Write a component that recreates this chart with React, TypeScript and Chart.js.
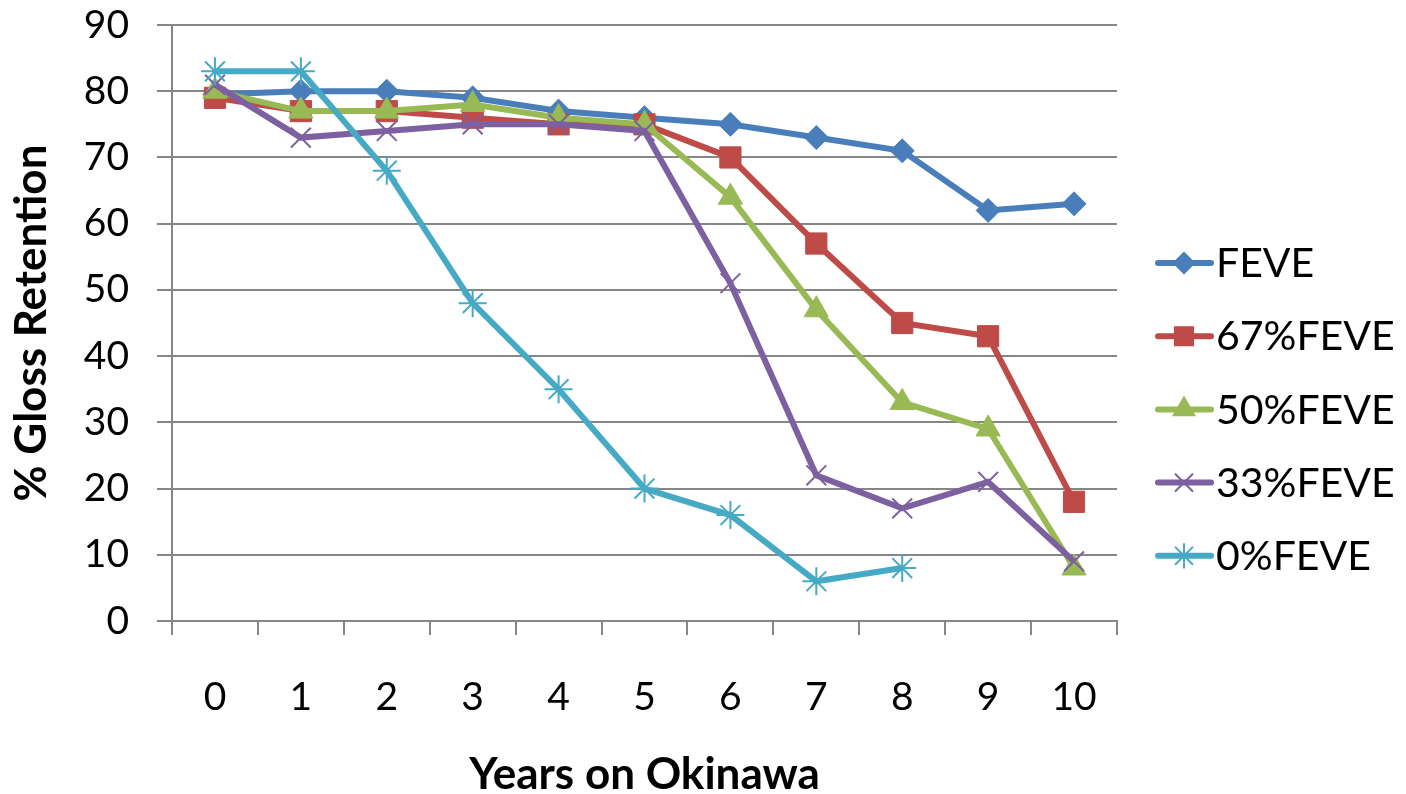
import React, { useEffect, useRef } from 'react';
import { Chart, registerables } from 'chart.js';
import { drawPoint } from 'chart.js/helpers';

Chart.register(...registerables);

const years = ['0', '1', '2', '3', '4', '5', '6', '7', '8', '9', '10'];
const feve = [79.5, 80, 80, 79, 77, 76, 75, 73, 71, 62, 63];
const feve67 = [79, 77, 77, 76, 75, 75, 70, 57, 45, 43, 18];
const feve50 = [80, 77, 77, 78, 76, 75, 64, 47, 33, 29, 8];
const feve33 = [81, 73, 74, 75, 75, 74, 51, 22, 17, 21, 9];
const feve0 = [83, 83, 68, 48, 35, 20, 16, 6, 8, null, null];

const seriesNames = ['FEVE', '67%FEVE', '50%FEVE', '33%FEVE', '0%FEVE'];
const seriesData = [feve, feve67, feve50, feve33, feve0];
const colors = ['#4A7EBB', '#BE4B48', '#98B954', '#7D60A0', '#46AAC5'];
const pointStyles = ['rectRot', 'rect', 'triangle', 'crossRot', 'star'];
const pointRadii = [12, 15, 14, 14, 14];

const FONT = 'Lato, "Open Sans", sans-serif';

const legendPlugin = {
  id: 'customLegend',
  afterDraw(chart: any) {
    const ctx = chart.ctx;
    ctx.save();
    const startY = 263;
    const step = 73.2;
    seriesNames.forEach((name, i) => {
      const y = startY + i * step;
      ctx.strokeStyle = colors[i];
      ctx.lineWidth = 6;
      ctx.lineCap = 'round';
      ctx.beginPath();
      ctx.moveTo(1158, y);
      ctx.lineTo(1211, y);
      ctx.stroke();
      ctx.fillStyle = colors[i];
      ctx.lineWidth = 2;
      drawPoint(ctx, { pointStyle: pointStyles[i], radius: pointRadii[i] * 0.85, rotation: 0, borderWidth: 2 }, 1184, y);
      ctx.fillStyle = '#000';
      ctx.font = `41px ${FONT}`;
      ctx.textBaseline = 'middle';
      ctx.textAlign = 'left';
      ctx.fillText(name, 1216, y + 1);
    });
    ctx.restore();
  },
};

export default function App() {
  const ref = useRef<HTMLCanvasElement | null>(null);
  useEffect(() => {
    if (!ref.current) return;
    const chart = new Chart(ref.current, {
      type: 'line',
      data: {
        labels: years,
        datasets: seriesNames.map((name, i) => ({
          label: name,
          data: seriesData[i],
          borderColor: colors[i],
          backgroundColor: colors[i],
          borderWidth: 6,
          pointStyle: pointStyles[i] as any,
          pointRadius: pointRadii[i],
          pointBorderWidth: i >= 3 ? 2 : 1,
          pointBackgroundColor: colors[i],
          pointBorderColor: colors[i],
          tension: 0,
          spanGaps: false,
          order: 4 - i,
        })),
      },
      options: {
        animation: false,
        responsive: false,
        maintainAspectRatio: false,
        layout: { padding: { left: 0, right: 289, top: 25, bottom: 0 } },
        plugins: {
          legend: { display: false },
          tooltip: { enabled: false },
        },
        scales: {
          x: {
            offset: true,
            grid: {
              offset: true,
              drawOnChartArea: false,
              drawTicks: true,
              tickLength: 14,
              color: '#868686',
              lineWidth: 2,
            },
            border: { color: '#868686', width: 2 },
            ticks: {
              color: '#000',
              font: { family: FONT, size: 39 },
              padding: 39,
              maxRotation: 0,
            },
            title: {
              display: true,
              text: 'Years on Okinawa',
              color: '#000',
              font: { family: FONT, size: 44, weight: 'bold', lineHeight: 0.85 },
              padding: { top: 0, bottom: 0 },
            },
            afterFit(scale: any) {
              scale.height = 173;
              scale.paddingLeft = 0;
              scale.paddingRight = 0;
            },
          },
          y: {
            min: 0,
            max: 90,
            ticks: {
              stepSize: 10,
              color: '#000',
              font: { family: FONT, size: 39 },
              padding: 28,
            },
            grid: {
              color: '#868686',
              lineWidth: 2,
              drawTicks: true,
              tickLength: 15,
            },
            border: { color: '#868686', width: 2 },
            title: {
              display: true,
              text: '% Gloss Retention',
              color: '#000',
              font: { family: FONT, size: 44, weight: 'bold', lineHeight: 1 },
              padding: { top: 10, bottom: 0 },
            },
            afterFit(scale: any) {
              scale.width = 172;
              scale.paddingTop = 0;
              scale.paddingBottom = 0;
            },
          },
        },
      },
      plugins: [legendPlugin],
    });
    return () => chart.destroy();
  }, []);
  return (
    <div style={{ position: 'fixed', left: 0, top: 0, width: 1406, height: 794, background: '#fff' }}>
      <canvas ref={ref} width={1406} height={794} style={{ width: 1406, height: 794, display: 'block' }} />
    </div>
  );
}
